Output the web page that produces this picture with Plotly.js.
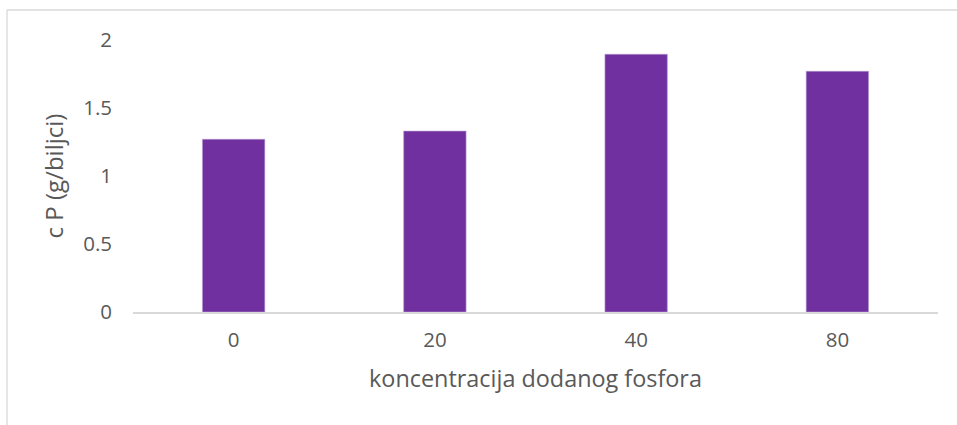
<!DOCTYPE html>
<html>
<head>
<meta charset="utf-8">
<script src="https://cdn.plot.ly/plotly-3.0.1.min.js"></script>
<style>
html,body{margin:0;padding:0;background:#fff;}
#chart{width:957px;height:425px;}
</style>
</head>
<body>
<div id="chart"></div>
<script>
var categories = ["0", "20", "40", "80"];
var values = [1.27, 1.33, 1.895, 1.77];
var yTicks = [0, 0.5, 1, 1.5, 2];
var yTickLabels = ["0", "0.5", "1", "1.5", "2"];
var xTitle = "koncentracija dodanog fosfora";
var yTitle = "c P (g/biljci)";

var FONT = "Open Sans, sans-serif";
var TXT = "#595959";

var trace = {
  type: "bar",
  x: categories,
  y: values,
  marker: {color: "#7030A0", line: {color: "#b89ad0", width: 0.6}},
  hoverinfo: "x+y"
};

var layout = {
  width: 957, height: 425,
  margin: {l: 133, r: 19, t: 40, b: 113},
  paper_bgcolor: "#fff", plot_bgcolor: "#fff",
  bargap: 0.69,
  showlegend: false,
  font: {family: FONT, color: TXT, size: 20},
  xaxis: {
    type: "category",
    showgrid: false, zeroline: false,
    showline: true, linecolor: "#d9d9d9", linewidth: 1.5,
    ticks: "", tickfont: {family: FONT, size: 20.5, color: TXT},
    ticklabelstandoff: 9,
    title: {text: xTitle, font: {family: FONT, size: 23.4, color: TXT}, standoff: 18}
  },
  yaxis: {
    range: [0, 2], tickvals: yTicks, ticktext: yTickLabels,
    showgrid: false, zeroline: false, showline: false,
    ticks: "", tickfont: {family: FONT, size: 20.5, color: TXT},
    ticklabelstandoff: 20,
    title: {text: yTitle, font: {family: FONT, size: 24, color: TXT}, standoff: 12}
  },
  shapes: [
    {type: "line", xref: "paper", yref: "paper", x0: -126/805, x1: 1.1, y0: 302/272, y1: 302/272, line: {color: "#d9d9d9", width: 1.3}},
    {type: "line", xref: "paper", yref: "paper", x0: -126/805, x1: -126/805, y0: -0.5, y1: 302/272, line: {color: "#d9d9d9", width: 1.3}}
  ]
};

Plotly.newPlot("chart", [trace], layout, {displayModeBar: false, staticPlot: true});
</script>
</body>
</html>
